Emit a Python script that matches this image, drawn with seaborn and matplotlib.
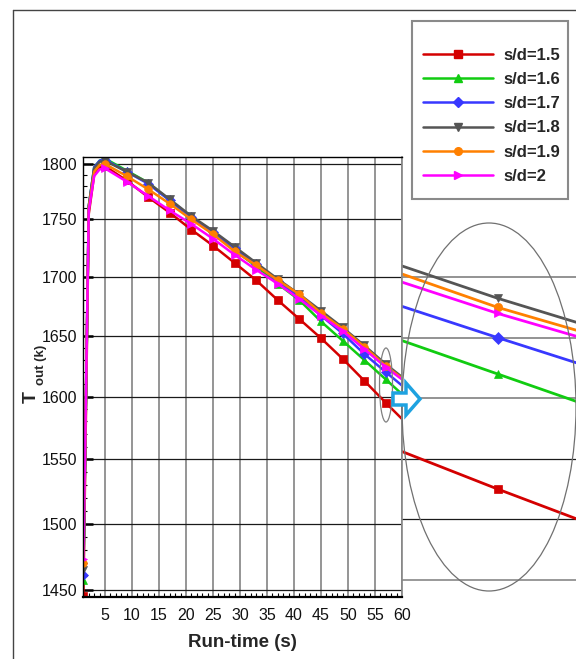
import numpy as np
import matplotlib
matplotlib.use("Agg")
import matplotlib.pyplot as plt
import seaborn as sns
from matplotlib.lines import Line2D
from matplotlib.patches import Ellipse, Polygon, Rectangle
from matplotlib.ticker import MultipleLocator

# Valores (T_out em K)
run_time = [1, 2, 3, 4, 5, 9, 13, 17, 21, 25, 29, 33, 37, 41, 45, 49, 53, 57, 60]
t_sd15 = [1445, 1755, 1790, 1797, 1798, 1785, 1770, 1756, 1741, 1727, 1712, 1697, 1680, 1664, 1648, 1631, 1613, 1595, 1582]
t_sd16 = [1457, 1762, 1797, 1803, 1805, 1794, 1783, 1767, 1752, 1738, 1723, 1709, 1694, 1680, 1662, 1646, 1630, 1614, 1602]
t_sd17 = [1461, 1762, 1797, 1803, 1804, 1793, 1782, 1767, 1752, 1739, 1725, 1711, 1696, 1683, 1667, 1652, 1635, 1620, 1609]
t_sd18 = [1465, 1762, 1796, 1802, 1803, 1793, 1783, 1768, 1753, 1740, 1726, 1712, 1698, 1685, 1671, 1657, 1642, 1626.5, 1616]
t_sd19 = [1470, 1760, 1793, 1799, 1800, 1789, 1777, 1764, 1750, 1737, 1722, 1710, 1697, 1685, 1669, 1656, 1641, 1625, 1615]
t_sd2 = [1473, 1758, 1789, 1795, 1796, 1784, 1771, 1758, 1746, 1733, 1719, 1706, 1694, 1681, 1667, 1654, 1639, 1624, 1614]

labels = ["s/d=1.5", "s/d=1.6", "s/d=1.7", "s/d=1.8", "s/d=1.9", "s/d=2"]
series = [t_sd15, t_sd16, t_sd17, t_sd18, t_sd19, t_sd2]
colors = ["#d40000", "#11cc11", "#3838ff", "#555555", "#ff8000", "#ff00ff"]
markers = ["s", "^", "D", "v", "o", ">"]
x_ticks = list(range(5, 61, 5))
y_ticks = list(range(1450, 1801, 50))
zoom_ticks = list(range(1590, 1631, 10))

sns.set_theme(style="white")
plt.rcParams['font.family'] = ['Liberation Sans', 'DejaVu Sans']

W, H = 576, 659
fig = plt.figure(figsize=(W / 100, H / 100), dpi=100)


def fx(px):
    return px / W


def fy(py):
    return 1 - py / H


# o eixo y do original não é bem linear (espaçamento cresce para baixo)
QA, QB = 54.63, 0.882


def y_fwd(v):
    u = (1800 - np.asarray(v, dtype=float)) / 50
    return -(QA * u + QB * u ** 2)


def y_inv(s):
    s = np.asarray(s, dtype=float)
    disc = np.clip(QA ** 2 - 4 * QB * s, 1e-9, None)
    u = (-QA + np.sqrt(disc)) / (2 * QB)
    return 1800 - 50 * u


# marcadores a cada 4 s
mark_idx = [i for i, t in enumerate(run_time) if (t - 1) % 4 == 0]

# Gráfico principal
ax = fig.add_axes([fx(83), fy(597), fx(402) - fx(83), fy(157) - fy(597)])
ax.set_yscale('function', functions=(y_fwd, y_inv))
for y, col, mk in zip(series, colors, markers):
    sns.lineplot(x=run_time, y=y, ax=ax, color=col, marker=mk, markevery=mark_idx,
                 markersize=5.5, markeredgecolor=col, mew=0.5, lw=1.8, sort=False)
ax.set_xlim(0.93, 60)
ax.set_ylim(1444.5, 1806.4)
ax.set_xticks(x_ticks)
ax.set_yticks(y_ticks)
ax.set_yticklabels([str(v) for v in y_ticks])
ax.xaxis.set_minor_locator(MultipleLocator(1))
ax.yaxis.set_minor_locator(MultipleLocator(10))
ax.tick_params(axis='both', which='major', direction='in', length=7, width=1.8,
               color='black', labelsize=11.5, labelcolor='#111111')
ax.tick_params(axis='x', which='major', pad=8)
ax.tick_params(axis='y', which='major', pad=4, left=True)
ax.tick_params(axis='both', which='minor', direction='in', length=3, width=0.8,
               color='black', bottom=True, left=True)
ax.tick_params(axis='y', which='minor', labelleft=False)
ax.grid(axis='x', which='major', color='#8c8c8c', lw=1.3)
ax.grid(axis='y', which='major', color='#1a1a1a', lw=0.9)
for side in ['left', 'top', 'bottom']:
    ax.spines[side].set_color('black')
ax.spines['bottom'].set_linewidth(1.6)
ax.spines['left'].set_linewidth(1.0)
ax.spines['top'].set_linewidth(1.0)
ax.spines['right'].set_color('#888888')
ax.set_xlabel("Run-time (s)", fontsize=13.5, fontweight='bold', labelpad=8)
ax.set_ylabel("")

# rótulo do eixo y: T com subscrito
fig.text(fx(31), fy(397), "T", rotation=90, fontsize=14, fontweight='bold',
         ha='center', va='center')
fig.text(fx(41), fy(365), "out (k)", rotation=90, fontsize=9.5, fontweight='bold',
         ha='center', va='center')

# Detalhe ampliado
axz = fig.add_axes([fx(402), fy(580), fx(600) - fx(402), fy(262) - fy(580)])
for y, col, mk in zip(series, colors, markers):
    sns.lineplot(x=run_time, y=y, ax=axz, color=col, marker=mk, markevery=mark_idx,
                 markersize=6, markeredgecolor=col, mew=0.5, lw=2.0, sort=False)
axz.set_xlim(55.62, 58.47)
axz.set_ylim(1580, 1632.5)
axz.set_yticks(zoom_ticks)
axz.set_xticks([])
axz.tick_params(left=False, labelleft=False, bottom=False, labelbottom=False)
axz.grid(axis='y', color='#808080', lw=1.2)
for gl, v in zip(axz.get_ygridlines(), zoom_ticks):
    if v <= 1600:
        gl.set_color('#1a1a1a')
        gl.set_linewidth(0.9)
axz.set_xlabel("")
axz.set_ylabel("")
axz.spines['top'].set_visible(False)
axz.spines['right'].set_visible(False)
axz.spines['left'].set_color('#888888')
axz.spines['bottom'].set_color('#888888')
axz.spines['left'].set_linewidth(1.2)
axz.spines['bottom'].set_linewidth(1.2)
axz.set_facecolor('white')

# elipses e seta
fig.add_artist(Ellipse((fx(386), fy(385)), fx(13), 74 / H, transform=fig.transFigure,
                       fill=False, ec='#808080', lw=0.9, zorder=5))
fig.add_artist(Ellipse((fx(489), fy(407)), fx(174), 368 / H, transform=fig.transFigure,
                       fill=False, ec='#707070', lw=0.9, zorder=5))
arrow_px = [(393, 393), (406, 393), (406, 383), (420, 399), (406, 415), (406, 405), (393, 405)]
fig.add_artist(Polygon([(fx(a), fy(b)) for a, b in arrow_px], closed=True,
                       transform=fig.transFigure, fc='white', ec='#1ea2e0', lw=2.5, zorder=6))

# Legenda
fig.add_artist(Rectangle((fx(412), fy(199)), fx(568) - fx(412), fy(21) - fy(199),
                         transform=fig.transFigure, fill=True, fc='white', ec='#8a8a8a',
                         lw=1.5, zorder=4))
handles = [Line2D([], [], color=c, marker=m, markersize=5.5, markeredgecolor=c, lw=1.8)
           for c, m in zip(colors, markers)]
leg = fig.legend(handles, labels, loc='upper left', bbox_to_anchor=(fx(423), fy(47.5)),
                 bbox_transform=fig.transFigure, frameon=False, borderpad=0,
                 borderaxespad=0, handlelength=4.2, handletextpad=0.6,
                 labelspacing=0.56, numpoints=1,
                 prop={'weight': 'bold', 'size': 12})
leg.set_zorder(7)

# moldura externa
fig.add_artist(Line2D([fx(13), fx(13)], [0, fy(10)], transform=fig.transFigure,
                      color='#444444', lw=1))
fig.add_artist(Line2D([fx(13), 1], [fy(10), fy(10)], transform=fig.transFigure,
                      color='#444444', lw=1))

fig.savefig("out.png", dpi=100)
